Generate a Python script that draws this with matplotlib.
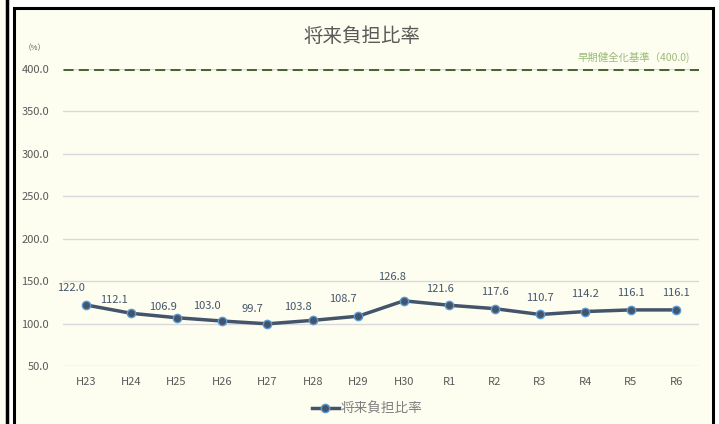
import matplotlib.pyplot as plt
from matplotlib.patches import Rectangle
from matplotlib.lines import Line2D

plt.rcParams['font.family'] = ['Noto Sans CJK JP', 'DejaVu Sans']

# data
years = ["H23", "H24", "H25", "H26", "H27", "H28", "H29", "H30",
         "R1", "R2", "R3", "R4", "R5", "R6"]
ratio = [122.0, 112.1, 106.9, 103.0, 99.7, 103.8, 108.7, 126.8,
         121.6, 117.6, 110.7, 114.2, 116.1, 116.1]
threshold = 400.0

# label nudges (pixels), as placed in the original
label_dx = [-15, -17, -14, -15, -15, -15, -15, -12, -9, 0, 0, 0, 0, 0]
label_dy = [17, 13, 11, 15, 15, 13, 17, 24, 16, 17, 16, 18, 17, 17]

W, H = 719, 424
bg = "#FEFEF0"
fig = plt.figure(figsize=(W / 100, H / 100), dpi=100, facecolor="white")

# frames (left neighbour panel edge + chart box)
fig.patches.append(Rectangle((0, 0), 6.5 / W, 1, transform=fig.transFigure,
                             facecolor=bg, edgecolor="none", zorder=-3))
fig.add_artist(Line2D([6.5 / W, 6.5 / W], [0, 1], transform=fig.transFigure,
                      color="black", lw=2.5, zorder=-2))
fig.patches.append(Rectangle((13.5 / W, -0.05), (712.5 - 13.5) / W, 1 - 7.5 / H + 0.05,
                             transform=fig.transFigure, facecolor=bg,
                             edgecolor="black", lw=2.2, zorder=-3))

ax = fig.add_axes([63 / W, 1 - 366 / H, (699 - 63) / W, (366 - 69) / H])
ax.set_facecolor("none")
x = list(range(len(years)))

ax.set_ylim(50, 400)
ax.set_xlim(-0.5, len(years) - 0.5)
ax.set_yticks([50, 100, 150, 200, 250, 300, 350, 400])
ax.set_yticklabels([f"{v:.1f}" for v in [50, 100, 150, 200, 250, 300, 350, 400]])
ax.set_xticks(x)
ax.set_xticklabels(years)
ax.tick_params(length=0, colors="#595959", labelsize=8, pad=8)
ax.tick_params(axis="y", pad=10)
for s in ax.spines.values():
    s.set_visible(False)
ax.grid(axis="y", color="#D9D9D9", lw=1)
ax.set_axisbelow(True)

ax.axhline(threshold, color="#4A6530", lw=2.2, dashes=(3.3, 1.7))

ax.plot(x, ratio, color="#44546A", lw=2.5, marker="o", markersize=6,
        markerfacecolor="#44546A", markeredgecolor="#5B9BD5", markeredgewidth=1,
        zorder=3)

for i, v in enumerate(ratio):
    ax.annotate(f"{v:.1f}", (x[i], v), xytext=(label_dx[i], label_dy[i]),
                textcoords="offset pixels", ha="center", va="center",
                fontsize=8, color="#44546A")

fig.text(362 / W, 1 - 37 / H, "将来負担比率", ha="center", va="center",
         fontsize=14, color="#595959")
fig.text(35 / W, 1 - 48 / H, "（%）", ha="center", va="center",
         fontsize=5.5, color="#595959")
fig.text(690 / W, 1 - 57 / H, "早期健全化基準（400.0)", ha="right", va="center",
         fontsize=7.5, color="#9BBB7A")

handle = Line2D([], [], color="#44546A", lw=2.5, marker="o", markersize=6,
                markerfacecolor="#44546A", markeredgecolor="#5B9BD5")
leg = fig.legend([handle], ["将来負担比率"], loc="center",
                 bbox_to_anchor=(367 / W, 1 - 409 / H), frameon=False,
                 fontsize=9.8, handlelength=2.0, handletextpad=0.1)
for t in leg.get_texts():
    t.set_color("#7F7F7F")

fig.savefig("out.png", dpi=100, facecolor="white")
